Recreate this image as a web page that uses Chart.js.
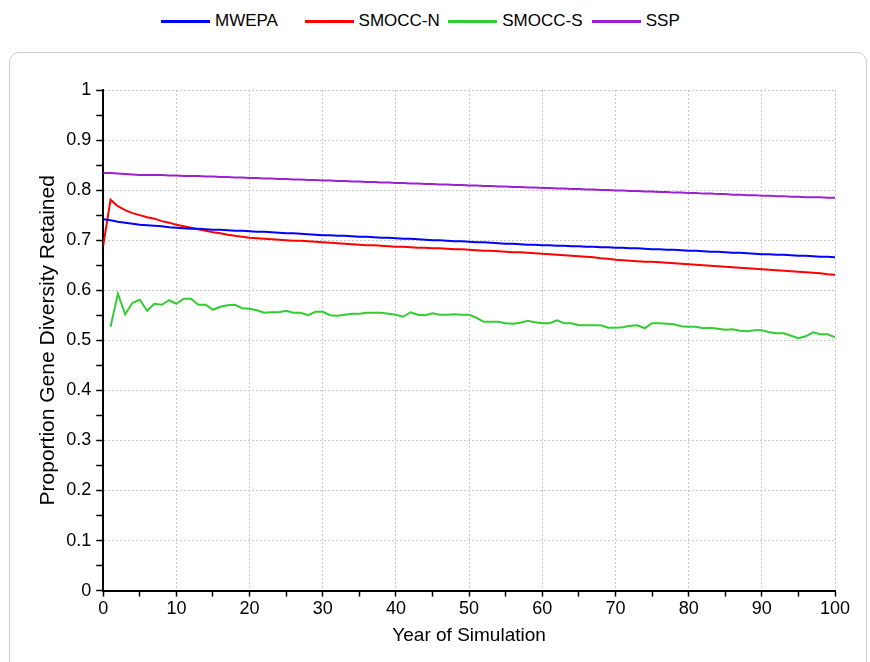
<!DOCTYPE html>
<html lang="en">
<head>
    <meta charset="UTF-8">
    <title>Proportion Gene Diversity Retained</title>
    <script src="https://cdn.jsdelivr.net/npm/chart.js"></script>
    <style>
        body { margin: 0; background: #fff; font-family: "Liberation Sans", Arial, sans-serif; }
        .page { position: relative; width: 870px; height: 662px; overflow: hidden; }
        .panel {
            position: absolute; left: 9px; top: 52px; width: 858px; height: 700px;
            border: 1px solid #cfcfcf; border-radius: 10px; box-sizing: border-box;
        }
        #legend { position: absolute; left: 161px; top: 10px; display: flex; }
        .legend-item { width: 143.6px; display: flex; align-items: center; height: 22px; }
        .legend-line { width: 49px; height: 3px; margin-right: 5px; }
        .legend-text { font-size: 17px; color: #000; }
        .chart-box { position: absolute; left: 0; top: 0; width: 870px; height: 662px; }
    </style>
</head>
<body>
<div class="page">
    <div class="panel"></div>
    <div id="legend"></div>
    <div class="chart-box"><canvas id="diversityChart"></canvas></div>
</div>

<script>
    // Années de simulation (axe x)
    const years = Array.from({ length: 101 }, (_, i) => i);

    const seriesNames = ['MWEPA', 'SMOCC-N', 'SMOCC-S', 'SSP'];
    const seriesColors = ['#0000ff', '#ff0000', '#33cc33', '#9b20d0'];

    const mwepa = [
        0.742, 0.740, 0.737, 0.735, 0.733, 0.731, 0.730, 0.729, 0.728, 0.726, 0.725,
        0.724, 0.723, 0.723, 0.722, 0.721, 0.721, 0.720, 0.719, 0.719, 0.718,
        0.717, 0.717, 0.716, 0.715, 0.714, 0.714, 0.713, 0.712, 0.711, 0.710,
        0.710, 0.709, 0.709, 0.708, 0.707, 0.707, 0.706, 0.705, 0.705, 0.704,
        0.703, 0.703, 0.702, 0.701, 0.700, 0.700, 0.699, 0.698, 0.698, 0.697,
        0.696, 0.696, 0.695, 0.694, 0.693, 0.693, 0.692, 0.691, 0.691, 0.690,
        0.690, 0.689, 0.689, 0.688, 0.688, 0.687, 0.687, 0.686, 0.686, 0.685,
        0.685, 0.684, 0.684, 0.683, 0.682, 0.682, 0.681, 0.681, 0.680, 0.679,
        0.679, 0.678, 0.677, 0.677, 0.676, 0.675, 0.675, 0.674, 0.673, 0.672,
        0.672, 0.671, 0.671, 0.670, 0.669, 0.669, 0.668, 0.667, 0.667, 0.666
    ];

    const smoccN = [
        0.689, 0.781, 0.768, 0.760, 0.754, 0.750, 0.746, 0.743, 0.738, 0.735, 0.731,
        0.728, 0.725, 0.722, 0.719, 0.716, 0.714, 0.711, 0.709, 0.707, 0.705,
        0.704, 0.703, 0.702, 0.701, 0.700, 0.699, 0.699, 0.698, 0.697, 0.696,
        0.695, 0.694, 0.693, 0.692, 0.691, 0.690, 0.690, 0.689, 0.688, 0.687,
        0.687, 0.686, 0.685, 0.685, 0.684, 0.684, 0.683, 0.682, 0.682, 0.681,
        0.680, 0.679, 0.679, 0.678, 0.677, 0.676, 0.676, 0.675, 0.674, 0.673,
        0.672, 0.671, 0.670, 0.669, 0.668, 0.667, 0.666, 0.664, 0.663, 0.661,
        0.660, 0.659, 0.658, 0.657, 0.657, 0.656, 0.655, 0.654, 0.653, 0.652,
        0.651, 0.650, 0.649, 0.648, 0.647, 0.646, 0.645, 0.644, 0.643, 0.642,
        0.641, 0.640, 0.639, 0.638, 0.637, 0.636, 0.635, 0.634, 0.632, 0.631
    ];

    // pas de valeur pour l'année 0
    const smoccS = [
        null, 0.527, 0.593, 0.552, 0.575, 0.581, 0.559, 0.573, 0.571, 0.580, 0.573,
        0.583, 0.583, 0.571, 0.571, 0.561, 0.567, 0.570, 0.571, 0.564, 0.563,
        0.560, 0.555, 0.556, 0.556, 0.559, 0.555, 0.555, 0.550, 0.557, 0.557,
        0.550, 0.549, 0.551, 0.553, 0.553, 0.555, 0.555, 0.555, 0.553, 0.551,
        0.547, 0.556, 0.551, 0.550, 0.554, 0.551, 0.551, 0.552, 0.551, 0.551,
        0.545, 0.537, 0.537, 0.537, 0.534, 0.533, 0.535, 0.539, 0.536, 0.534,
        0.534, 0.540, 0.534, 0.534, 0.530, 0.530, 0.530, 0.530, 0.525, 0.525,
        0.526, 0.529, 0.530, 0.524, 0.534, 0.534, 0.533, 0.532, 0.528, 0.527,
        0.527, 0.524, 0.525, 0.523, 0.521, 0.522, 0.519, 0.518, 0.520, 0.520,
        0.516, 0.514, 0.514, 0.509, 0.504, 0.508, 0.516, 0.512, 0.512, 0.506
    ];

    const ssp = [
        0.834, 0.834, 0.833, 0.832, 0.831, 0.830, 0.830, 0.830, 0.830, 0.829, 0.829,
        0.828, 0.828, 0.828, 0.827, 0.827, 0.826, 0.826, 0.825, 0.825, 0.824,
        0.824, 0.823, 0.823, 0.822, 0.822, 0.821, 0.821, 0.820, 0.820, 0.819,
        0.819, 0.818, 0.818, 0.817, 0.817, 0.816, 0.816, 0.815, 0.815, 0.814,
        0.814, 0.813, 0.813, 0.812, 0.812, 0.811, 0.811, 0.810, 0.810, 0.809,
        0.809, 0.808, 0.808, 0.807, 0.807, 0.806, 0.806, 0.805, 0.805, 0.804,
        0.804, 0.803, 0.803, 0.802, 0.802, 0.801, 0.801, 0.800, 0.800, 0.799,
        0.799, 0.798, 0.798, 0.797, 0.797, 0.796, 0.796, 0.795, 0.795, 0.794,
        0.794, 0.793, 0.793, 0.792, 0.792, 0.791, 0.791, 0.790, 0.790, 0.789,
        0.789, 0.788, 0.788, 0.787, 0.787, 0.786, 0.786, 0.786, 0.785, 0.785
    ];

    const seriesData = [mwepa, smoccN, smoccS, ssp];

    Chart.defaults.font.family = '"Liberation Sans", Arial, sans-serif';
    Chart.defaults.color = '#000';

    const gridGrey = '#c8c8c8';

    // une graduation sur deux porte une étiquette et une ligne de grille
    function isMajor(value, step) {
        const r = value / step;
        return Math.abs(r - Math.round(r)) < 1e-6;
    }

    // Légende HTML construite à partir des jeux de données
    const htmlLegend = {
        id: 'htmlLegend',
        afterUpdate(chart) {
            const box = document.getElementById('legend');
            box.innerHTML = '';
            chart.data.datasets.forEach(ds => {
                const item = document.createElement('div');
                item.className = 'legend-item';
                item.innerHTML = `<span class="legend-line" style="background:${ds.borderColor}"></span>` +
                    `<span class="legend-text">${ds.label}</span>`;
                box.appendChild(item);
            });
        }
    };

    const chart = new Chart(document.getElementById('diversityChart'), {
        type: 'line',
        data: {
            labels: years,
            datasets: seriesNames.map((name, i) => ({
                label: name,
                data: seriesData[i],
                borderColor: seriesColors[i],
                backgroundColor: seriesColors[i],
                borderWidth: 2,
                pointRadius: 0,
                tension: 0,
                spanGaps: false
            }))
        },
        options: {
            responsive: true,
            maintainAspectRatio: false,
            animation: false,
            layout: { padding: { top: 90, right: 35, bottom: 15, left: 32 } },
            plugins: {
                legend: { display: false },
                tooltip: { enabled: false }
            },
            scales: {
                x: {
                    type: 'linear',
                    min: 0,
                    max: 100,
                    ticks: {
                        stepSize: 5,
                        maxTicksLimit: 21,
                        autoSkip: false,
                        maxRotation: 0,
                        font: { size: 18 },
                        padding: 2,
                        callback: v => isMajor(v, 10) ? String(v) : ''
                    },
                    grid: {
                        color: ctx => isMajor(ctx.tick.value, 10) && ctx.tick.value !== 0 ? gridGrey : 'transparent',
                        lineWidth: 1,
                        tickColor: '#000',
                        tickWidth: 1.5,
                        tickLength: 6,
                        tickBorderDash: []
                    },
                    border: { color: '#000', width: 2, dash: [2, 2] },
                    title: {
                        display: true,
                        text: 'Year of Simulation',
                        font: { size: 19 },
                        padding: { top: 2, bottom: 0 }
                    }
                },
                y: {
                    min: 0,
                    max: 1,
                    ticks: {
                        stepSize: 0.05,
                        maxTicksLimit: 21,
                        autoSkip: false,
                        font: { size: 18 },
                        padding: 5,
                        callback: v => isMajor(v, 0.1) ? String(parseFloat(v.toFixed(1))) : ''
                    },
                    grid: {
                        color: ctx => isMajor(ctx.tick.value, 0.1) && ctx.tick.value !== 0 ? gridGrey : 'transparent',
                        lineWidth: 1,
                        tickColor: '#000',
                        tickWidth: 1.5,
                        tickLength: 7,
                        tickBorderDash: []
                    },
                    border: { color: '#000', width: 2, dash: [2, 2] },
                    title: {
                        display: true,
                        text: 'Proportion Gene Diversity Retained',
                        font: { size: 21 },
                        padding: { top: 4, bottom: 0 }
                    }
                }
            }
        },
        plugins: [htmlLegend]
    });
</script>
</body>
</html>
